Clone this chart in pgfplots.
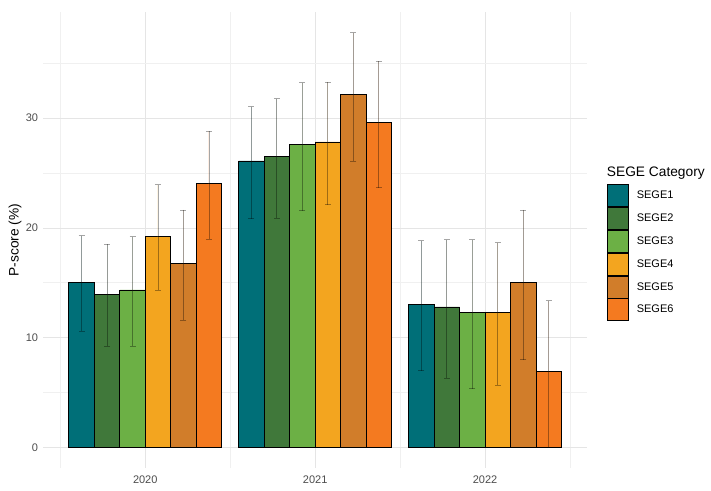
\documentclass[border=0pt]{standalone}
\usepackage{pgfplots}
\pgfplotsset{compat=1.18}
\usetikzlibrary{calc}
\usepackage{fontspec}
\setmainfont{Liberation Sans}
\definecolor{sege1}{HTML}{006F78}
\definecolor{sege2}{HTML}{40783A}
\definecolor{sege3}{HTML}{6CB045}
\definecolor{sege4}{HTML}{F3A51F}
\definecolor{sege5}{HTML}{D17D2A}
\definecolor{sege6}{HTML}{F47A20}
\pgfplotsset{
  segebar/.style={draw=black, line width=0.9pt, fill=#1,
    error bars/y dir=both, error bars/y explicit,
    error bars/error bar style={draw=black, draw opacity=0.35, line width=0.9pt},
    error bars/error mark options={rotate=90, mark size=3pt, draw=black, draw opacity=0.35, line width=0.9pt}},
}
\begin{document}
\begin{tikzpicture}
\useasboundingbox (0,0) rectangle (711pt,490pt);
\begin{axis}[
  name=ax,
  at={(43.3pt,22pt)}, anchor=south west,
  scale only axis, width=543.7pt, height=456pt,
  xmin=0.4, xmax=3.6, ymin=-1.89, ymax=39.68,
  xtick={1,2,3}, xticklabels={2020,2021,2022},
  ytick={0,10,20,30},
  minor xtick={0.5,1.5,2.5,3.5}, minor ytick={5,15,25,35},
  grid=both,
  major grid style={draw=black!10, line width=0.7pt},
  minor grid style={draw=black!6, line width=0.45pt},
  axis line style={draw=none},
  major tick length=0pt, minor tick length=0pt,
  /pgf/number format/assume math mode=true,
  tick label style={font=\fontsize{11}{13}\selectfont, text=black!70},
  yticklabel style={inner sep=0pt, xshift=-5pt},
  xticklabel style={inner sep=0pt, yshift=-8pt},
  ybar, bar width=0.15,
  legend style={at={(1,1)}, anchor=north west, xshift=19.7pt, yshift=-172.3pt,
    draw=none, fill=none, inner sep=0pt, row sep=0pt, column sep=8pt,
    font=\fontsize{11}{13}\selectfont, cells={anchor=west},
    nodes={inner sep=0pt}},
  legend image code/.code={\draw[#1, draw=black, line width=0.9pt] (0pt,-10.95pt) rectangle (21pt,10.95pt);},
]
\addplot[bar shift=-0.375, segebar=sege1] coordinates {
  (1,15.00) += (0,4.29) -= (0,4.43)
  (2,26.10) += (0,4.95) -= (0,5.26)
  (3,13.04) += (0,5.77) -= (0,6.05)};
\addlegendentry{SEGE1}
\addplot[bar shift=-0.225, segebar=sege2] coordinates {
  (1,13.95) += (0,4.55) -= (0,4.75)
  (2,26.49) += (0,5.29) -= (0,5.59)
  (3,12.79) += (0,6.11) -= (0,6.50)};
\addlegendentry{SEGE2}
\addplot[bar shift=-0.075, segebar=sege3] coordinates {
  (1,14.34) += (0,4.86) -= (0,5.11)
  (2,27.56) += (0,5.68) -= (0,5.99)
  (3,12.31) += (0,6.59) -= (0,6.97)};
\addlegendentry{SEGE3}
\addplot[bar shift=0.075, segebar=sege4] coordinates {
  (1,19.23) += (0,4.71) -= (0,4.89)
  (2,27.83) += (0,5.47) -= (0,5.74)
  (3,12.31) += (0,6.34) -= (0,6.66)};
\addlegendentry{SEGE4}
\addplot[bar shift=0.225, segebar=sege5] coordinates {
  (1,16.74) += (0,4.89) -= (0,5.16)
  (2,32.12) += (0,5.67) -= (0,6.05)
  (3,15.04) += (0,6.59) -= (0,7.06)};
\addlegendentry{SEGE5}
\addplot[bar shift=0.375, segebar=sege6] coordinates {
  (1,24.03) += (0,4.80) -= (0,5.07)
  (2,29.60) += (0,5.59) -= (0,5.93)
  (3,6.89) += (0,6.45) -= (0,6.89)};
\addlegendentry{SEGE6}
\end{axis}
\node[anchor=base west, inner sep=0pt, font=\fontsize{13.75}{16}\selectfont]
  at ($(ax.north east)+(19.7pt,-164.5pt)$) {SEGE Category};
\node[rotate=90, inner sep=0pt, font=\fontsize{13.75}{16}\selectfont]
  at ($(ax.west)+(-28.3pt,0pt)$) {P-score (\%)};
\end{tikzpicture}
\end{document}
